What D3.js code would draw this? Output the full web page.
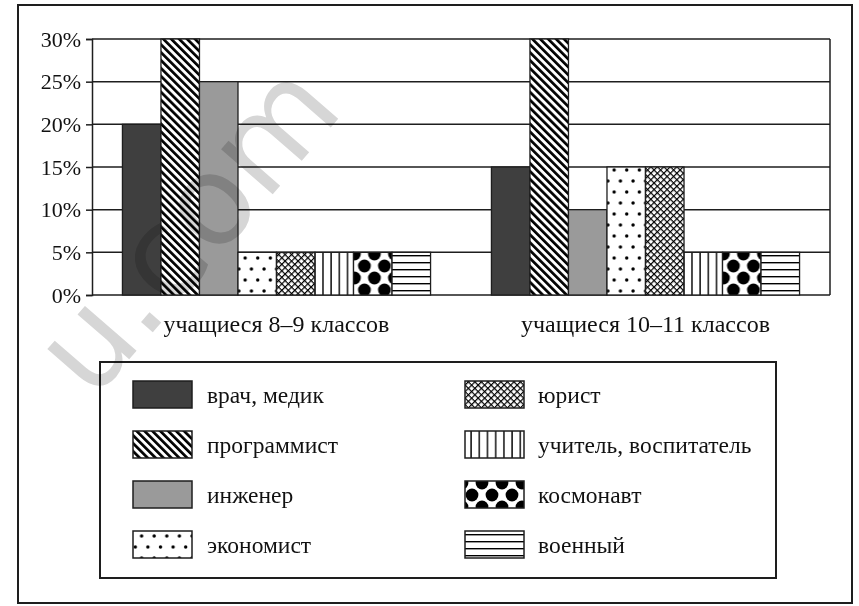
<!DOCTYPE html>
<html><head><meta charset="utf-8">
<script src="https://cdn.jsdelivr.net/npm/d3@7"></script>
<style>
body{margin:0;background:#fff}
svg{display:block}
</style>
</head><body>
<svg id="c" width="859" height="606"></svg>
<script>
// ---- data ----
const groups = ["учащиеся 8–9 классов", "учащиеся 10–11 классов"];
const professions = ["врач, медик", "программист", "инженер", "экономист", "юрист", "учитель, воспитатель", "космонавт", "военный"];
const values8_9 = [20, 30, 25, 5, 5, 5, 5, 5];
const values10_11 = [15, 30, 10, 15, 15, 5, 5, 5];
const yTicks = [0, 5, 10, 15, 20, 25, 30];
const seriesByGroup = [values8_9, values10_11];

const SERIF = "'Liberation Serif', 'Times New Roman', Times, 'DejaVu Serif', serif";
const svg = d3.select("#c");
const plot = {left: 92, right: 830, top: 39, bottom: 295};
const ink = "#1e1e1e";

// ---- patterns ----
const defs = svg.append("defs");
function pat(id, w, h, transform) {
  const p = defs.append("pattern").attr("id", id)
    .attr("patternUnits", "userSpaceOnUse").attr("width", w).attr("height", h);
  if (transform) p.attr("patternTransform", transform);
  p.append("rect").attr("width", w).attr("height", h).attr("fill", "#fff");
  return p;
}
pat("p1", 5.6, 5.6, "rotate(-45)").append("rect").attr("width", 2.7).attr("height", 5.6).attr("fill", "#000");
{ const p = pat("p3", 12.6, 22);
  [[3, 5], [9.3, 16]].forEach(([x, y]) => p.append("circle").attr("cx", x).attr("cy", y).attr("r", 1.7).attr("fill", "#000")); }
{ const p = pat("p4", 4.6, 4.6, "rotate(45)");
  p.append("rect").attr("width", 1.2).attr("height", 4.6).attr("fill", "#000");
  p.append("rect").attr("width", 4.6).attr("height", 1.2).attr("fill", "#000"); }
pat("p5", 8.2, 8).append("rect").attr("x", 3).attr("width", 1.4).attr("height", 8).attr("fill", "#000");
{ const p = pat("p6", 20, 24, "translate(2,2)");
  [[0, 0], [20, 0], [0, 24], [20, 24], [10, 12]].forEach(([x, y]) => p.append("circle").attr("cx", x).attr("cy", y).attr("r", 6.4).attr("fill", "#000")); }
pat("p7", 8, 7).append("rect").attr("y", 3).attr("width", 8).attr("height", 1.4).attr("fill", "#000");

const fills = ["#3f3f3f", "url(#p1)", "#9a9a9a", "url(#p3)", "url(#p4)", "url(#p5)", "url(#p6)", "url(#p7)"];

// ---- outer frame ----
svg.append("rect").attr("x", 18).attr("y", 5).attr("width", 834).attr("height", 598)
  .attr("fill", "#fff").attr("stroke", ink).attr("stroke-width", 2);

// ---- scales ----
const y = d3.scaleLinear().domain([0, 30]).range([plot.bottom, plot.top]);
const x0 = d3.scaleBand().domain(groups).range([plot.left, plot.right]).paddingInner(0.165).paddingOuter(0.0825);
const x1 = d3.scaleBand().domain(professions).range([0, x0.bandwidth()]);

// gridlines
svg.append("g").selectAll("line").data(yTicks).join("line")
  .attr("x1", plot.left).attr("x2", plot.right)
  .attr("y1", d => y(d)).attr("y2", d => y(d))
  .attr("stroke", ink).attr("stroke-width", 1.5);

// bars
const gb = svg.append("g");
groups.forEach((g, gi) => {
  gb.append("g").attr("transform", `translate(${x0(g)},0)`)
    .selectAll("rect").data(professions).join("rect")
    .attr("x", d => x1(d)).attr("width", x1.bandwidth())
    .attr("y", (d, i) => y(seriesByGroup[gi][i]))
    .attr("height", (d, i) => y(0) - y(seriesByGroup[gi][i]))
    .attr("fill", (d, i) => fills[i])
    .attr("stroke", ink).attr("stroke-width", 1.3);
});

svg.append("line").attr("x1", plot.right).attr("x2", plot.right)
  .attr("y1", plot.top).attr("y2", plot.bottom).attr("stroke", ink).attr("stroke-width", 1.5);

// y axis
const ay = svg.append("g").attr("transform", `translate(${plot.left},0)`)
  .call(d3.axisLeft(y).tickValues(yTicks).tickFormat(d => d + "%").tickSize(6).tickPadding(5));
ay.attr("font-family", null).attr("font-size", null);
ay.selectAll("path, line").attr("stroke", ink).attr("stroke-width", 1.5);
ay.selectAll("text").style("font-family", SERIF).style("font-size", "22px").attr("fill", "#111");

// group labels
svg.append("g").selectAll("text").data(groups).join("text")
  .attr("x", d => x0(d) + x0.bandwidth() / 2).attr("y", 332)
  .attr("text-anchor", "middle").style("font-family", SERIF).style("font-size", "24px")
  .attr("fill", "#111").text(d => d);

// ---- legend ----
svg.append("rect").attr("x", 100).attr("y", 362).attr("width", 676).attr("height", 216)
  .attr("fill", "#fff").attr("stroke", ink).attr("stroke-width", 2);
const legCols = [{sx: 133, tx: 207}, {sx: 465, tx: 538}];
const legRowY = d3.scaleLinear().domain([0, 3]).range([381, 531]);
const lg = svg.append("g").selectAll("g").data(professions).join("g")
  .attr("transform", (d, i) => `translate(0,${legRowY(i % 4)})`);
lg.append("rect").attr("x", (d, i) => legCols[Math.floor(i / 4)].sx).attr("width", 59).attr("height", 27)
  .attr("fill", (d, i) => fills[i]).attr("stroke", ink).attr("stroke-width", 1.5);
lg.append("text").attr("x", (d, i) => legCols[Math.floor(i / 4)].tx).attr("y", 22)
  .style("font-family", SERIF).style("font-size", "23.5px").attr("fill", "#111").text(d => d);

// ---- watermark ----
svg.append("text").attr("transform", "translate(92,402) rotate(-49)")
  .style("font-family", "'DejaVu Sans', sans-serif").style("font-size", "125px")
  .style("mix-blend-mode", "multiply")
  .attr("fill", "#d6d6d6").text("u.com");
</script>
</body></html>
